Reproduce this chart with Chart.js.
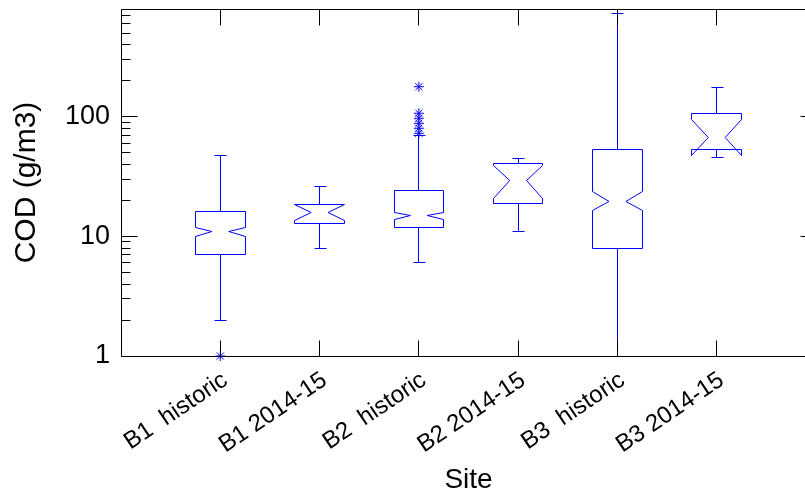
<!DOCTYPE html>
<html>
<head>
<meta charset="utf-8">
<script src="https://cdn.jsdelivr.net/npm/chart.js@4/dist/chart.umd.min.js"></script>
<style>
  html, body { margin: 0; padding: 0; background: #fff; overflow: hidden; }
  #wrap { width: 805px; height: 498px; overflow: hidden; position: relative; }
  canvas { display: block; }
</style>
</head>
<body>
<div id="wrap"><canvas id="chart" width="830" height="498"></canvas></div>
<script>
// COD by site: notched box statistics (g/m3)
const categories  = ['B1  historic', 'B1 2014-15', 'B2  historic', 'B2 2014-15', 'B3  historic', 'B3 2014-15'];
const whiskerLow  = [2.0,  8.0,  6.0,  10.9, 1.0,  45.6];
const quartile1   = [7.0,  12.9, 11.8, 18.9, 7.9,  53.7];
const notchLow    = [9.96, 13.7, 13.9, 20.8, 16.4, 47.8];
const median      = [11.1, 15.9, 14.9, 29.3, 19.8, 67.6];
const notchHigh   = [11.9, 18.4, 15.9, 39.0, 23.7, 94.4];
const quartile3   = [16.3, 18.6, 24.3, 40.4, 53.7, 107];
const whiskerHigh = [47.5, 26.1, 70,   44.8, 740,  177];
const outliers    = [[1.0], [], [73, 80.4, 88.5, 97.5, 107.4, 179], [], [], []];
const yTickLabels = [1, 10, 100];

const FONT = "'Liberation Sans', Arial, Helvetica, sans-serif";
const BLUE = '#0000ff';
const BOX_HALF = 0.25;     // half box width, in category units
const NOTCH_HALF = 0.085;  // half width at the median notch
const CAP_HALF = 0.055;    // whisker cap half width

const snap = v => Math.floor(v) + 0.5;

// outlier points as a scatter series
const outlierPoints = [];
outliers.forEach((list, i) => list.forEach(v => outlierPoints.push({ x: i + 1, y: v })));

// every minor/major tick position on the log axis
const logTicks = [];
for (let d = 1; d <= 100; d *= 10) {
  for (let m = 1; m <= 9; m++) {
    const v = m * d;
    if (v <= 800) logTicks.push(v);
  }
}

const notchedBoxes = {
  id: 'notchedBoxes',
  beforeDatasetsDraw(chart) {
    const { ctx, scales: { x, y } } = chart;
    const py = v => snap(y.getPixelForValue(v));
    ctx.save();
    ctx.strokeStyle = BLUE;
    ctx.lineWidth = 1;
    categories.forEach((c, i) => {
      const pos = i + 1;
      const cx = snap(x.getPixelForValue(pos));
      const L = snap(x.getPixelForValue(pos - BOX_HALF));
      const R = snap(x.getPixelForValue(pos + BOX_HALF));
      const nl = x.getPixelForValue(pos - NOTCH_HALF);
      const nr = x.getPixelForValue(pos + NOTCH_HALF);
      const cl = snap(x.getPixelForValue(pos - CAP_HALF));
      const cr = snap(x.getPixelForValue(pos + CAP_HALF));

      // notched box outline
      ctx.beginPath();
      ctx.moveTo(L, py(quartile1[i]));
      ctx.lineTo(L, py(notchLow[i]));
      ctx.lineTo(nl, py(median[i]));
      ctx.lineTo(L, py(notchHigh[i]));
      ctx.lineTo(L, py(quartile3[i]));
      ctx.lineTo(R, py(quartile3[i]));
      ctx.lineTo(R, py(notchHigh[i]));
      ctx.lineTo(nr, py(median[i]));
      ctx.lineTo(R, py(notchLow[i]));
      ctx.lineTo(R, py(quartile1[i]));
      ctx.closePath();
      ctx.stroke();

      // whiskers and caps
      ctx.beginPath();
      ctx.moveTo(cx, py(quartile3[i]));
      ctx.lineTo(cx, py(whiskerHigh[i]));
      ctx.moveTo(cl, py(whiskerHigh[i]));
      ctx.lineTo(cr + 1, py(whiskerHigh[i]));
      ctx.moveTo(cx, py(quartile1[i]));
      ctx.lineTo(cx, py(whiskerLow[i]));
      ctx.moveTo(cl, py(whiskerLow[i]));
      ctx.lineTo(cr + 1, py(whiskerLow[i]));
      ctx.stroke();
    });
    ctx.restore();
  },
  afterDraw(chart) {
    const { ctx, chartArea: a, scales: { x, y } } = chart;
    const left = snap(a.left), right = snap(a.right);
    const top = snap(a.top), bottom = snap(a.bottom);
    ctx.save();
    ctx.strokeStyle = '#000';
    ctx.lineWidth = 1;
    ctx.beginPath();
    ctx.moveTo(left, top); ctx.lineTo(right, top);
    ctx.lineTo(right, bottom); ctx.lineTo(left, bottom);
    ctx.closePath();
    // inward ticks on the log axis, both sides
    logTicks.forEach(v => {
      const p = snap(y.getPixelForValue(v));
      const major = yTickLabels.includes(v);
      const len = major ? 16 : 9;
      ctx.moveTo(left, p); ctx.lineTo(left + len, p);
      ctx.moveTo(right, p); ctx.lineTo(right - len, p);
    });
    // category ticks, top and bottom
    categories.forEach((c, i) => {
      const p = snap(x.getPixelForValue(i + 1));
      ctx.moveTo(p, bottom); ctx.lineTo(p, bottom - 16);
      ctx.moveTo(p, top); ctx.lineTo(p, top + 16);
    });
    ctx.stroke();
    ctx.restore();
  }
};

new Chart(document.getElementById('chart'), {
  type: 'scatter',
  data: {
    datasets: [{
      label: 'Outliers',
      data: outlierPoints,
      pointStyle: 'star',
      pointRadius: 5,
      pointHoverRadius: 5,
      borderColor: BLUE,
      backgroundColor: BLUE,
      borderWidth: 1,
      clip: false
    }]
  },
  options: {
    responsive: false,
    maintainAspectRatio: false,
    animation: false,
    events: [],
    layout: { padding: { top: 9, right: 14, left: 0, bottom: 0 } },
    plugins: {
      legend: { display: false },
      tooltip: { enabled: false }
    },
    scales: {
      x: {
        type: 'linear',
        min: 0,
        max: 7,
        grid: { display: false, drawTicks: false },
        border: { display: false },
        afterBuildTicks: s => { s.ticks = categories.map((c, i) => ({ value: i + 1 })); },
        afterFit: s => { s.height = 142; s.paddingLeft = 0; s.paddingRight = 0; },
        ticks: {
          autoSkip: false,
          minRotation: 34,
          maxRotation: 34,
          padding: 10,
          labelOffset: 5,
          color: '#000',
          font: { family: FONT, size: 24 },
          callback: v => categories[v - 1]
        },
        title: {
          display: true,
          text: 'Site',
          color: '#000',
          font: { family: FONT, size: 28 },
          padding: { top: 0, bottom: 1 }
        }
      },
      y: {
        type: 'logarithmic',
        min: 1,
        max: 800,
        grid: { display: false, drawTicks: false },
        border: { display: false },
        afterFit: s => { s.width = 121; s.paddingTop = 0; s.paddingBottom = 0; },
        ticks: {
          autoSkip: false,
          padding: 11,
          color: '#000',
          font: { family: FONT, size: 27 },
          callback: v => (yTickLabels.includes(v) ? String(v) : '')
        },
        title: {
          display: true,
          text: 'COD (g/m3)',
          color: '#000',
          font: { family: FONT, size: 30 },
          padding: { top: 9, bottom: 0 }
        }
      }
    }
  },
  plugins: [notchedBoxes]
});
</script>
</body>
</html>
